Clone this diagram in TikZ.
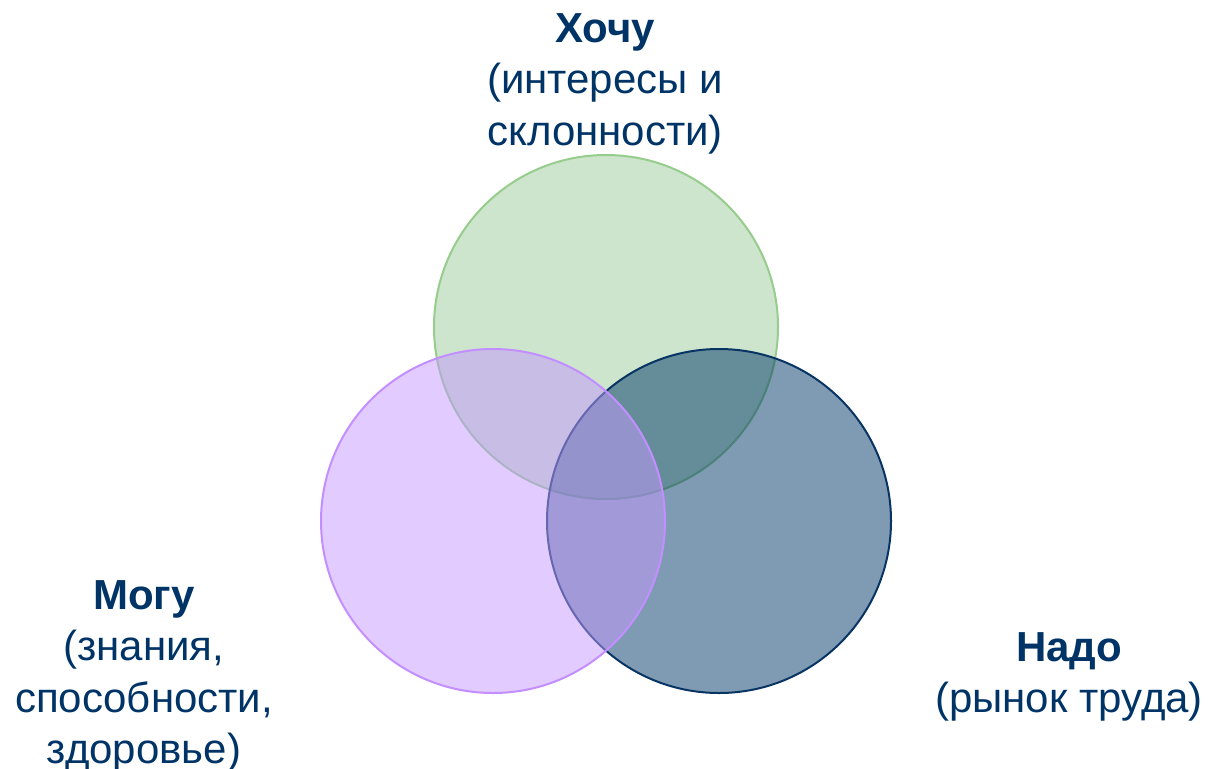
\documentclass[tikz,border=0pt]{standalone}
\usepackage{fontspec}
\setmainfont{Liberation Sans}
\definecolor{txt}{RGB}{0,51,102}
\definecolor{gfill}{RGB}{153,203,153}
\definecolor{gline}{RGB}{150,204,140}
\definecolor{pfill}{RGB}{197,153,255}
\definecolor{pline}{RGB}{195,142,255}
\definecolor{bfill}{RGB}{0,55,103}
\definecolor{bline}{RGB}{8,52,100}
\tikzset{
  venn/.style={fill opacity=0.5, draw opacity=1, line width=1.5pt},
  lbl/.style={text=txt, align=center, anchor=north, inner sep=0pt,
    font=\fontsize{31.5}{38.6}\selectfont}
}
\begin{document}
\begin{tikzpicture}[x=0.75pt,y=-0.75pt]
\useasboundingbox (0,0) rectangle (1209,768);
\path[venn, fill=gfill, draw=gline] (606,327) circle[radius=172];
\path[venn, fill=bfill, draw=bline] (719,521) circle[radius=172];
\path[venn, fill=pfill, draw=pline] (493,521) circle[radius=172];
\node[lbl] (want) at (605,13) {\textbf{Хочу}\\(интересы и\\склонности)};
\node[lbl] (can) at (144,580) {\textbf{Могу}\\(знания,\\способности,\\здоровье)};
\node[lbl] (need) at (1069,632) {\textbf{Надо}\\(рынок труда)};
\end{tikzpicture}
\end{document}
